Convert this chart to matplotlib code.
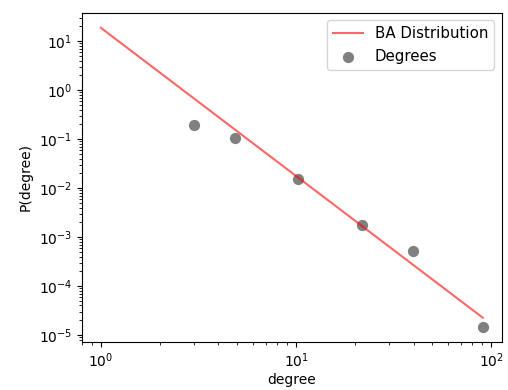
import matplotlib
matplotlib.use('Agg')
import matplotlib.pyplot as plt

# BA fitted distribution (straight line in log-log)
line_x = [1, 90.6]
line_y = [18.7, 2.25e-5]

# observed degree distribution
deg_x = [3.0, 4.85, 10.2, 21.8, 39.9, 90.6]
deg_y = [0.193, 0.106, 0.0155, 0.00174, 0.00051, 1.45e-5]

fig = plt.figure(figsize=(5.08, 3.9), dpi=100)
ax = fig.add_axes([0.161, 0.123, 0.827, 0.844])

ax.plot(line_x, line_y, color='red', alpha=0.6, label='BA Distribution')
ax.scatter(deg_x, deg_y, color='grey', s=50, label='Degrees')
ax.set_xscale('log')
ax.set_yscale('log')

ax.set_xlabel('degree', labelpad=2)
ax.set_ylabel('P(degree)')
ax.legend(loc='upper right', fontsize=10.8)

fig.savefig('out.png', dpi=100)
